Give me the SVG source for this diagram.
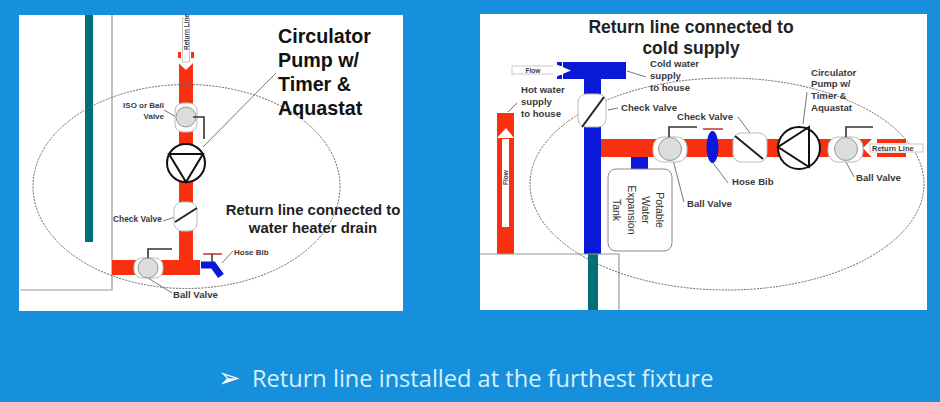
<svg xmlns="http://www.w3.org/2000/svg" width="940" height="402" viewBox="0 0 940 402">
<style>
text{font-family:"Liberation Sans",Arial,sans-serif;font-weight:700;fill:#3a3a3a}
.big{font-size:19.7px;fill:#111}
.mid{font-size:14.9px;fill:#222;text-anchor:middle}
.ttl{font-size:17.5px;fill:#222;text-anchor:middle}
.s{font-size:9.600px}
.sl{font-size:8.400px}
.xs{font-size:8px}
.tiny{font-size:6.500px}
.tk{font-size:10.500px;font-weight:400;text-anchor:middle;fill:#333}
.lead{fill:none;stroke:#777;stroke-width:1}
.wall{fill:none;stroke:#999;stroke-width:1.2}
.ell{fill:none;stroke:#666;stroke-width:1;stroke-dasharray:2 1.2}
.red{fill:#f8300f}
.blue{fill:#0a18d8}
.teal{fill:#006f78}
.body{fill:#fff;stroke:#bbb;stroke-width:1}
.ball{fill:#dcdcdc;stroke:#999;stroke-width:1}
.blk{fill:none;stroke:#222;stroke-width:2}
.hnd{fill:none;stroke:#333;stroke-width:1.6}
.pump{fill:#fff;stroke:#111;stroke-width:2}
.tri{fill:none;stroke:#111;stroke-width:2}
.arw{fill:#fff;stroke:#bbb;stroke-width:.8}
</style>
<rect width="940" height="402" fill="#1690dc"/>
<rect x="19" y="15" width="384" height="296" fill="#fff"/>
<rect x="480" y="14" width="447" height="296" fill="#fff"/>

<g id="left-building">
<rect class="teal" x="85" y="15" width="8" height="227"/>
<path class="wall" d="M112 15V290H20"/>
</g>
<g id="connectors">
<g id="left-pipes">
<rect class="red" x="179" y="60" width="14" height="207"/>
<rect class="red" x="112" y="260" width="88" height="15"/>
</g>
<g id="left-leaders">
<path class="lead" d="M164 110L176 117M163 221L175 217M276 73L203 147M233 251L222 263M148 278L172 293"/>
</g>
<g id="right-pipes">
<rect class="red" x="497" y="113" width="17" height="141"/>
<rect class="blue" x="563" y="62" width="63" height="17"/>
<rect class="blue" x="584" y="62" width="17" height="192"/>
<rect class="red" x="601" y="139" width="276" height="18"/>
<rect class="blue" x="631" y="157" width="17" height="13"/>
<rect class="teal" x="588" y="254" width="10" height="56"/>
</g>
<g id="right-leaders">
<path class="lead" d="M517 103L508 112M627 71L646 77M608 110L618 108M738 117L750 133M673 160L684 202M713 163L728 183M846 162L854 177M807 92L803 124"/>
</g>
</g>
<path class="wall" d="M480 254H619V310"/>
<ellipse class="ell" cx="186.500" cy="186.500" rx="153.500" ry="102"/>
<ellipse class="ell" cx="727" cy="184" rx="197" ry="106"/>

<g id="left-return-arrow">
<rect class="red" x="178" y="52" width="3" height="6"/>
<rect class="red" x="191" y="52" width="3" height="6"/>
<path fill="#fff" d="M173 58H198L186 70Z"/>
<rect class="arw" x="182.500" y="18" width="7" height="44"/>
<text class="tiny" transform="translate(188.500 50) rotate(-90)">Return Line</text>
</g>
<g id="left-iso-valve">
<rect class="body" x="175" y="103" width="22" height="29" rx="8"/>
<circle class="ball" cx="186" cy="117" r="10"/>
<path class="hnd" d="M193 117H204V139"/>
<text class="xs" text-anchor="end"><tspan x="164" y="108">ISO or Ball</tspan><tspan x="164" y="119">Valve</tspan></text>
</g>
<g id="left-pump">
<circle class="pump" cx="186" cy="163" r="19"/>
<path class="tri" d="M169 154H203L186 182Z"/>
<text class="big"><tspan x="278" y="43">Circulator</tspan><tspan x="278" y="67">Pump w/</tspan><tspan x="278" y="91">Timer &amp;</tspan><tspan x="278" y="115">Aquastat</tspan></text>
</g>
<g id="left-check-valve">
<rect class="body" x="174" y="202" width="23" height="29" rx="8"/>
<path class="blk" d="M175 222L197 208"/>
<text class="sl" x="113" y="222">Check Valve</text>
</g>
<g id="left-ball-valve">
<rect class="body" x="134" y="258" width="29" height="20" rx="8"/>
<circle class="ball" cx="148" cy="268" r="10"/>
<path class="hnd" d="M148 258V249H172"/>
<text class="s" x="173" y="298">Ball Valve</text>
</g>
<g id="left-hose-bib">
<path d="M203 254H222" fill="none" stroke="#c23030" stroke-width="1.500"/>
<path d="M212 254V263" fill="none" stroke="#333" stroke-width="1.500"/>
<path d="M201 265H213L221 276" fill="none" stroke="#0a18d8" stroke-width="7"/>
<text class="xs" x="234" y="255">Hose Bib</text>
</g>
<text class="mid" id="left-caption"><tspan x="313" y="215">Return line connected to</tspan><tspan x="313" y="233">water heater drain</tspan></text>

<text class="ttl" id="right-title"><tspan x="691" y="33">Return line connected to</tspan><tspan x="691" y="54">cold supply</tspan></text>
<g id="right-flow-in">
<rect class="blue" x="557" y="62" width="5" height="4"/>
<rect class="blue" x="557" y="75" width="5" height="4"/>
<rect class="arw" x="512" y="66" width="43" height="8"/>
<path fill="#fff" d="M553 63L571 70.500L553 78Z"/>
<text class="tiny" x="533" y="72.500" text-anchor="middle">Flow</text>
</g>
<g id="right-hot-supply">
<path fill="#fff" d="M502 139H509V227H502ZM497 138L506 128L514 138Z"/>
<text class="tiny" transform="translate(508 185) rotate(-90)">Flow</text>
<text class="s"><tspan x="521" y="93">Hot water</tspan><tspan x="521" y="105">supply</tspan><tspan x="521" y="117">to house</tspan></text>
</g>
<text class="s" id="right-cold-label"><tspan x="650" y="67">Cold water</tspan><tspan x="650" y="79">supply</tspan><tspan x="650" y="91">to house</tspan></text>
<g id="right-check-valve-1">
<rect class="body" x="578" y="94" width="28" height="33" rx="8"/>
<path class="blk" d="M582 127L604 97"/>
<text class="s" x="621" y="111">Check Valve</text>
</g>
<g id="right-tank">
<rect x="608" y="169" width="64" height="82" rx="8" fill="#fff" stroke="#888"/>
<text class="tk" transform="translate(656 210) rotate(90)">Potable</text>
<text class="tk" transform="translate(642 210) rotate(90)">Water</text>
<text class="tk" transform="translate(628 210) rotate(90)">Expansion</text>
<text class="tk" transform="translate(613 210) rotate(90)">Tank</text>
</g>
<g id="right-ball-valve-1">
<rect class="body" x="653" y="137" width="34" height="25" rx="10"/>
<circle class="ball" cx="670" cy="149" r="11.500"/>
<path class="hnd" d="M669 137V127H697"/>
<text class="s" x="687" y="207">Ball Valve</text>
</g>
<g id="right-hose-bib">
<path d="M703 129H723" fill="none" stroke="#c23030" stroke-width="1.500"/>
<ellipse class="blue" cx="712.500" cy="147" rx="6" ry="16"/>
<text class="s" x="732" y="185">Hose Bib</text>
</g>
<g id="right-check-valve-2">
<rect class="body" x="733" y="133" width="34" height="29" rx="8"/>
<path class="blk" d="M735 136L763 159"/>
<text class="s" x="677" y="120">Check Valve</text>
</g>
<g id="right-pump">
<circle class="pump" cx="799" cy="148" r="21"/>
<path class="tri" d="M809 127V167L778 147Z"/>
<text class="s"><tspan x="811" y="76">Circulator</tspan><tspan x="811" y="87">Pump w/</tspan><tspan x="811" y="99">Timer &amp;</tspan><tspan x="811" y="111">Aquastat</tspan></text>
</g>
<g id="right-ball-valve-2">
<rect class="body" x="828" y="137" width="35" height="25" rx="10"/>
<circle class="ball" cx="846" cy="149" r="11.500"/>
<path class="hnd" d="M846 137V127H873"/>
<text class="s" x="856" y="181">Ball Valve</text>
</g>
<g id="right-return-arrow">
<path fill="#fff" d="M863 148L877 134V163Z"/>
<rect x="877" y="139" width="30" height="18" fill="#fff"/>
<rect class="red" x="877" y="139" width="29" height="4"/>
<rect class="red" x="877" y="153" width="29" height="4"/>
<rect class="arw" x="870" y="144" width="53" height="8" stroke="#999"/>
<text class="xs" x="872" y="150.500" style="font-size:7.500px">Return Line</text>
</g>
<g id="footer">
<text x="218" y="387" style="font-family:'DejaVu Sans',sans-serif;font-size:27px;font-weight:400;fill:#fff">➢</text>
<text x="252" y="387" style="font-family:'Open Sans','Noto Sans',sans-serif;font-size:23.600px;font-weight:400;fill:#d6f0fb">Return line installed at the furthest fixture</text>
</g>
</svg>
